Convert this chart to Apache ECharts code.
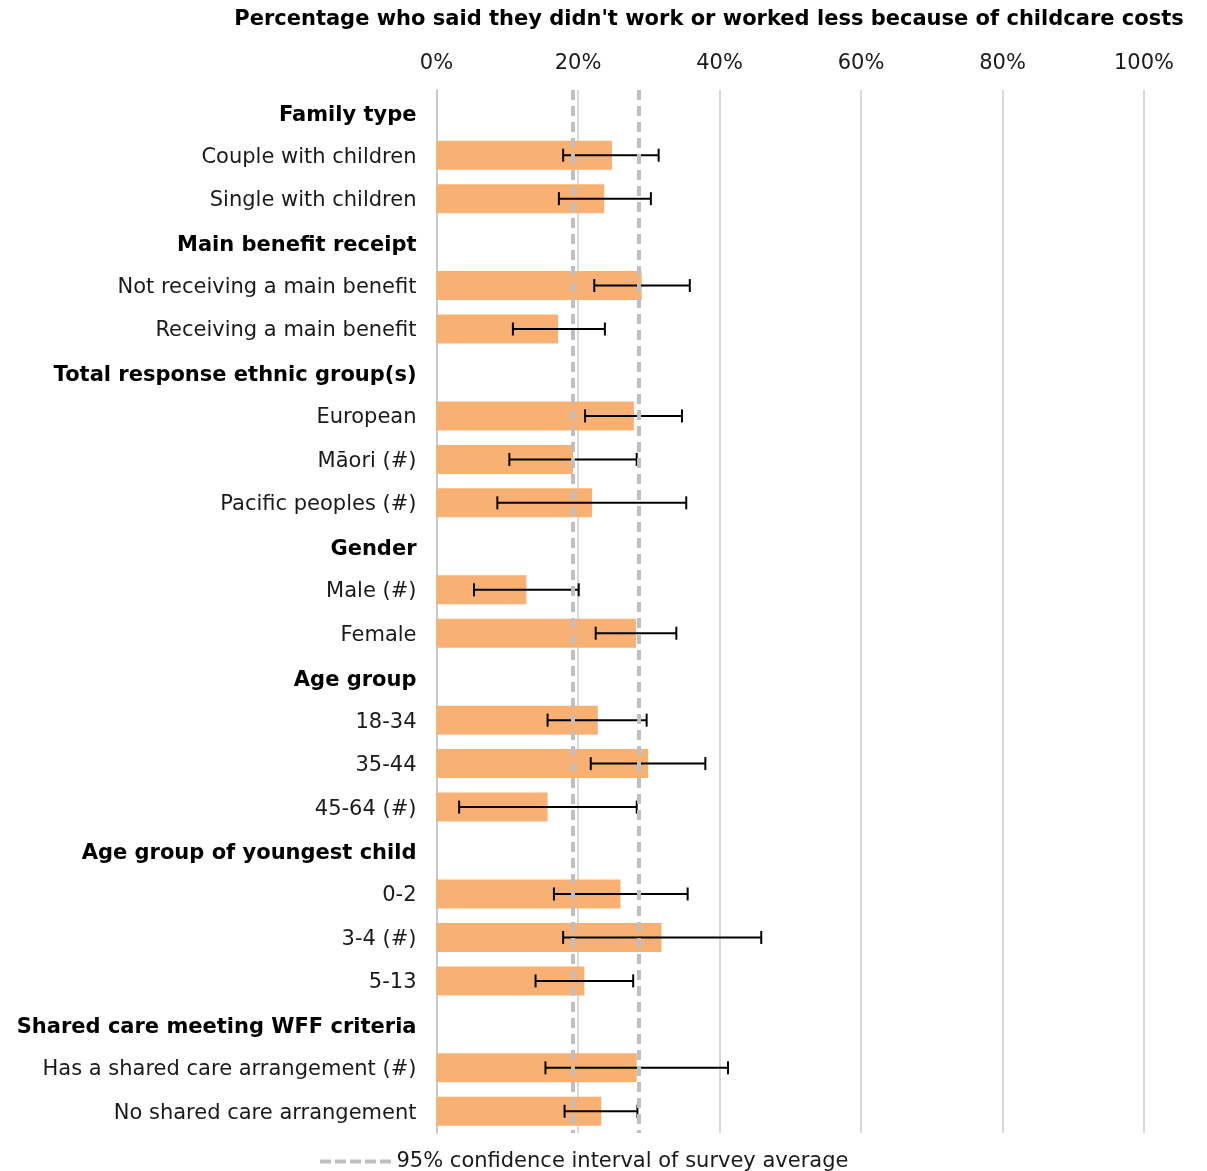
<!DOCTYPE html>
<html>
<head>
<meta charset="utf-8">
<script src="https://cdn.jsdelivr.net/npm/echarts@6/dist/echarts.min.js"></script>
<style>
html,body{margin:0;padding:0;background:#fff;}
#chart{width:1207px;height:1171px;}
</style>
</head>
<body>
<div id="chart"></div>
<script>
const titleText = "Percentage who said they didn't work or worked less because of childcare costs";
const legendName = "95% confidence interval of survey average";

const categories = [
  "Family type",
  "Couple with children",
  "Single with children",
  "Main benefit receipt",
  "Not receiving a main benefit",
  "Receiving a main benefit",
  "Total response ethnic group(s)",
  "European",
  "Māori (#)",
  "Pacific peoples (#)",
  "Gender",
  "Male (#)",
  "Female",
  "Age group",
  "18-34",
  "35-44",
  "45-64 (#)",
  "Age group of youngest child",
  "0-2",
  "3-4 (#)",
  "5-13",
  "Shared care meeting WFF criteria",
  "Has a shared care arrangement (#)",
  "No shared care arrangement"
];

const headers = [
  "Family type",
  "Main benefit receipt",
  "Total response ethnic group(s)",
  "Gender",
  "Age group",
  "Age group of youngest child",
  "Shared care meeting WFF criteria"
];

// null for header rows
const values = [
  null, 24.8, 23.7,
  null, 29.0, 17.2,
  null, 27.9, 19.3, 22.0,
  null, 12.7, 28.2,
  null, 22.8, 29.9, 15.7,
  null, 26.0, 31.8, 20.9,
  null, 28.3, 23.3
];

const ciLow = [
  null, 17.9, 17.3,
  null, 22.3, 10.8,
  null, 21.0, 10.3, 8.6,
  null, 5.3, 22.5,
  null, 15.7, 21.8, 3.2,
  null, 16.6, 17.9, 14.0,
  null, 15.4, 18.1
];

const ciHigh = [
  null, 31.4, 30.3,
  null, 35.8, 23.8,
  null, 34.7, 28.3, 35.3,
  null, 20.1, 33.9,
  null, 29.7, 38.0, 28.3,
  null, 35.5, 45.9, 27.8,
  null, 41.2, 28.4
];

const surveyCI = [19.3, 28.6];

const xMin = 0, xMax = 100, xInterval = 20;

const barData = values.map(v => v === null ? '-' : v);
const errData = [];
ciLow.forEach((lo, i) => { if (lo !== null) errData.push([i, lo, ciHigh[i]]); });

const FONT = "'DejaVu Sans', Verdana, sans-serif";
const FS = 21;

const chart = echarts.init(document.getElementById('chart'), null, {renderer: 'canvas'});
chart.setOption({
  animation: false,
  backgroundColor: '#ffffff',
  textStyle: {fontFamily: FONT},
  graphic: [{
    type: 'text',
    x: 709,
    y: 20,
    style: {
      text: titleText,
      font: "bold " + FS + "px " + FONT,
      fill: '#000',
      textAlign: 'center',
      textVerticalAlign: 'middle'
    }
  }],
  grid: {left: 436.5, right: 63, top: 90, bottom: 38, containLabel: false},
  legend: {
    show: true,
    left: 315,
    top: 1146,
    itemWidth: 72,
    itemHeight: 4,
    textStyle: {fontFamily: FONT, fontSize: FS, color: '#1a1a1a'},
    data: [{
      name: legendName,
      icon: 'path://M0,0H11V4H0Z M15,0H26V4H15Z M30,0H41V4H30Z M45,0H56V4H45Z M60,0H71V4H60Z',
      itemStyle: {color: '#bfbfbf'}
    }]
  },
  xAxis: {
    type: 'value',
    position: 'top',
    min: xMin,
    max: xMax,
    interval: xInterval,
    axisLine: {show: false},
    axisTick: {show: false},
    axisLabel: {
      formatter: '{value}%',
      fontFamily: FONT,
      fontSize: FS,
      color: '#1a1a1a',
      margin: 16
    },
    splitLine: {show: true, lineStyle: {color: '#d9d9d9', width: 2}}
  },
  yAxis: {
    type: 'category',
    data: categories,
    inverse: true,
    axisTick: {show: false},
    axisLine: {show: true, lineStyle: {color: '#c8c8c8', width: 2}},
    axisLabel: {
      margin: 20,
      fontFamily: FONT,
      fontSize: FS,
      color: '#1a1a1a',
      formatter: function (v) {
        return headers.indexOf(v) >= 0 ? '{h|' + v + '}' : '{n|' + v + '}';
      },
      rich: {
        h: {fontFamily: FONT, fontSize: FS, fontWeight: 'bold', color: '#000', padding: [7, 0, 0, 0]},
        n: {fontFamily: FONT, fontSize: FS, color: '#1a1a1a', padding: [4, 0, 0, 0]}
      }
    }
  },
  series: [
    {
      type: 'bar',
      name: 'value',
      data: barData,
      barWidth: 29,
      itemStyle: {color: '#F8B173'},
      z: 2
    },
    {
      type: 'custom',
      name: 'ci',
      data: errData,
      encode: {x: [1, 2], y: 0},
      z: 5,
      renderItem: function (params, api) {
        const yi = api.value(0);
        const lo = api.coord([api.value(1), yi]);
        const hi = api.coord([api.value(2), yi]);
        const h = 6.5;
        const st = {stroke: '#000', lineWidth: 2};
        return {
          type: 'group',
          children: [
            {type: 'line', shape: {x1: lo[0], y1: lo[1], x2: hi[0], y2: hi[1]}, style: st},
            {type: 'line', shape: {x1: lo[0], y1: lo[1] - h, x2: lo[0], y2: lo[1] + h}, style: st},
            {type: 'line', shape: {x1: hi[0], y1: hi[1] - h, x2: hi[0], y2: hi[1] + h}, style: st}
          ]
        };
      }
    },
    {
      type: 'line',
      name: legendName,
      data: [],
      symbol: 'none',
      z: 10,
      itemStyle: {color: '#bfbfbf'},
      lineStyle: {color: '#bfbfbf', width: 4, type: [10, 6]},
      markLine: {
        silent: true,
        symbol: ['none', 'none'],
        label: {show: false},
        z: 10,
        lineStyle: {color: '#bfbfbf', width: 4, type: [10, 6]},
        data: surveyCI.map(v => ({xAxis: v}))
      }
    }
  ]
});
</script>
</body>
</html>
